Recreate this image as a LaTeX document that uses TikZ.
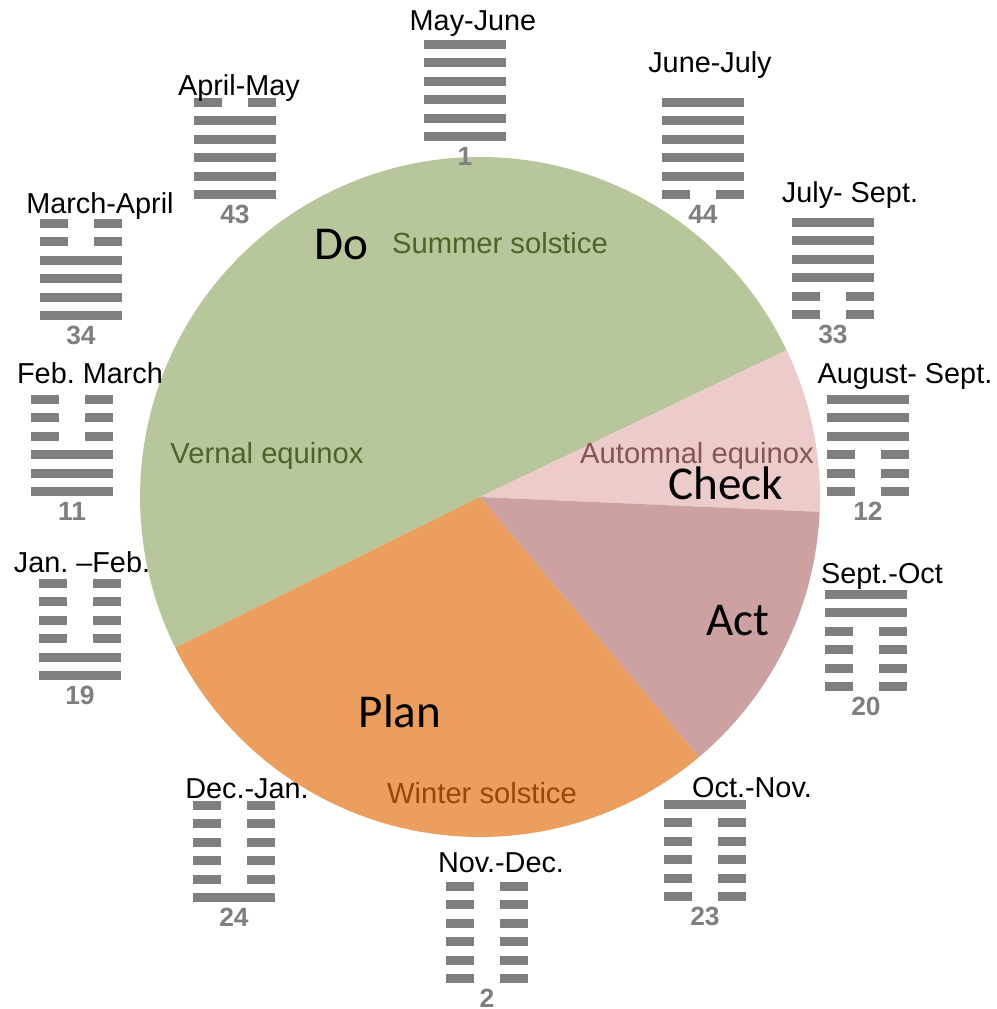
\documentclass[tikz,border=0pt]{standalone}
\usepackage{fontspec}
\setmainfont{Liberation Sans}
\newfontfamily\carlito{Carlito}
\usetikzlibrary{positioning}
\frenchspacing
\definecolor{dogreen}{RGB}{183,198,155}
\definecolor{checkpink}{RGB}{237,203,203}
\definecolor{actrose}{RGB}{205,161,162}
\definecolor{planorange}{RGB}{235,158,94}
\definecolor{summertext}{RGB}{79,98,40}
\definecolor{autumntext}{RGB}{134,84,84}
\definecolor{wintertext}{RGB}{151,72,7}
\definecolor{yaogray}{RGB}{127,127,127}

\begin{document}
\begin{tikzpicture}[scale=1,
    yao/.style={line width=0.9mm, draw=yaogray},
    month/.style={anchor=base, inner sep=0pt, font=\fontsize{8.2}{9}\selectfont},
    hexnum/.style={text=yaogray, inner sep=0pt, font=\fontsize{7.5}{8}\selectfont\bfseries},
    phase/.style={inner sep=0pt, font=\carlito\fontsize{13.4}{15}\selectfont},
    season/.style={inner sep=0pt, font=\fontsize{8.3}{9}\selectfont}]
            \useasboundingbox (0,0) rectangle (9.97,-10.09);
            \coordinate (ctr) at (4.80,-4.97);

            \fill [dogreen] (ctr) -- ++(25.6:3.4) arc [start angle=25.6, end angle=206.3, radius=3.4] -- cycle;
            \fill [checkpink] (ctr) -- ++(-2.5:3.4) arc [start angle=-2.5, end angle=25.6, radius=3.4] -- cycle;
            \fill [actrose] (ctr) -- ++(-49.9:3.4) arc [start angle=-49.9, end angle=-2.5, radius=3.4] -- cycle;
            \fill [planorange] (ctr) -- ++(206.3:3.4) arc [start angle=206.3, end angle=310.1, radius=3.4] -- cycle;

            \node [phase] (do) at (3.41,-2.45) {Do};
            \node [season, text=summertext] (summer) at (5.00,-2.43) {Summer solstice};
            \node [season, text=summertext] (vernal) at (2.67,-4.56) {Vernal equinox};
            \node [season, text=autumntext] (autumn) at (6.97,-4.56) {Automnal equinox};
            \node [phase] (check) at (7.26,-4.83) {Check};
            \node [phase] (act) at (7.38,-6.21) {Act};
            \node [phase] (plan) at (4.00,-7.11) {Plan};
            \node [season, text=wintertext] (winter) at (4.82,-7.93) {Winter solstice};

            \foreach \x/\y/\lo/\hi/\num/\lab/\lx/\ly [count=\k] in {
                4.65/0.44/6/5/1/May-June/4.73/0.30,
                7.03/1.02/5/5/44/June-July/7.10/0.72,
                8.33/2.22/4/5/33/July- Sept./8.50/2.02,
                8.68/3.99/3/5/12/August- Sept./9.05/3.83,
                8.66/5.94/2/5/20/Sept.-Oct/8.82/5.83,
                7.05/8.04/1/5/23/Oct.-Nov./7.52/7.97,
                4.87/8.86/0/5/2/Nov.-Dec./5.01/8.72,
                2.34/8.05/0/4/24/Dec.-Jan./2.47/7.98,
                0.80/5.83/0/3/19/Jan. –Feb./0.82/5.72,
                0.72/3.99/0/2/11/Feb. March/0.90/3.83,
                0.81/2.23/0/1/34/March-April/1.00/2.13,
                2.35/1.02/0/0/43/April-May/2.39/0.95}
            {
                \foreach \i in {0,...,5} {
                    \pgfmathtruncatemacro\brk{(\i>\lo-1)*(\i<\hi+1)}
                    \ifnum\brk=1
                        \draw [yao] (\x-0.41,-\y-0.185*\i) -- ++(0.28,0) (\x+0.13,-\y-0.185*\i) -- ++(0.28,0);
                    \else
                        \draw [yao] (\x-0.41,-\y-0.185*\i) -- ++(0.82,0);
                    \fi
                }
                \node [hexnum] (num\k) at (\x,-\y-1.12) {\num};
                \node [month] (mon\k) at (\lx,-\ly) {\lab};
            }
        \end{tikzpicture}
\end{document}
